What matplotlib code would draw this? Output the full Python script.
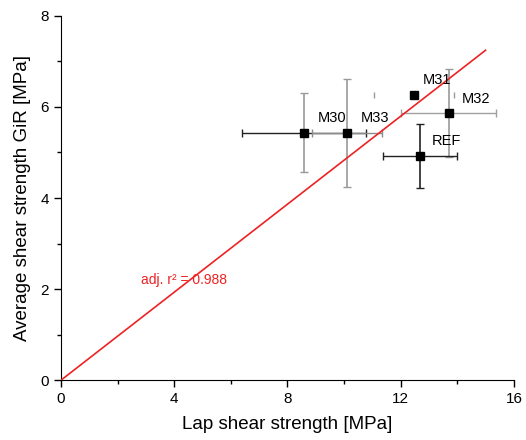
import matplotlib
matplotlib.use("Agg")
from matplotlib import pyplot as plt
from matplotlib.ticker import MultipleLocator

plt.rcParams['font.family'] = ['Liberation Sans', 'DejaVu Sans']

# lap shear vs. average GiR shear strength
names = ["M30", "M33", "M31", "M32", "REF"]
lap = [8.58, 10.10, 12.47, 13.70, 12.68]
gir = [5.43, 5.43, 6.26, 5.87, 4.92]
lap_err = [2.19, 1.24, 1.41, 1.68, 1.30]
gir_err = [0.87, 1.19, 0.0, 0.96, 0.70]
xerr_col = ["#222222", "#8c8c8c", "#8c8c8c", "#a0a0a0", "#222222"]
yerr_col = ["#999999", "#999999", "#999999", "#999999", "#222222"]

label_x = [9.57, 11.09, 13.28, 14.66, 13.63]
label_y = [5.76, 5.76, 6.59, 6.18, 5.25]

fit_x = [0, 15]
slope = 0.483
r2_text = "adj. r\u00b2 = 0.988"

fig = plt.figure(figsize=(5.26, 4.40), dpi=100)
ax = fig.add_axes([0.116, 0.136, 0.861, 0.828])

ax.plot(fit_x, [slope * v for v in fit_x], color="#ee2222", lw=1.2, zorder=3)

for i in range(len(names)):
    if names[i] == "M31":
        # caps only on this one
        ax.errorbar(lap[i], gir[i], xerr=lap_err[i], fmt="none", ecolor="#999999",
                    elinewidth=0, capsize=2.5, capthick=1, zorder=2)
    else:
        ax.errorbar(lap[i], gir[i], xerr=lap_err[i], fmt="none", ecolor=xerr_col[i],
                    elinewidth=1, capsize=3, capthick=1, zorder=2)
        ax.errorbar(lap[i], gir[i], yerr=gir_err[i], fmt="none", ecolor=yerr_col[i],
                    elinewidth=1.2, capsize=3, capthick=1, zorder=2)
    ax.plot(lap[i], gir[i], "s", color="black", ms=5.8, zorder=4)
    ax.text(label_x[i], label_y[i], names[i], fontsize=10.5, ha="center", va="center")

ax.text(4.34, 2.2, r2_text, color="#ee2222", fontsize=10, ha="center", va="center")

ax.set_xlim(0, 16)
ax.set_ylim(0, 8)
ax.xaxis.set_major_locator(MultipleLocator(4))
ax.xaxis.set_minor_locator(MultipleLocator(2))
ax.yaxis.set_major_locator(MultipleLocator(2))
ax.yaxis.set_minor_locator(MultipleLocator(1))
ax.tick_params(which="major", direction="out", length=5, width=1, labelsize=11)
ax.tick_params(which="minor", direction="out", length=3, width=1)
ax.spines["top"].set_visible(False)
ax.spines["right"].set_visible(False)

ax.set_xlabel("Lap shear strength [MPa]", fontsize=13.5, labelpad=7)
ax.set_ylabel("Average shear strength GiR [MPa]", fontsize=13.5, labelpad=7)

fig.savefig("out.png", dpi=100)
